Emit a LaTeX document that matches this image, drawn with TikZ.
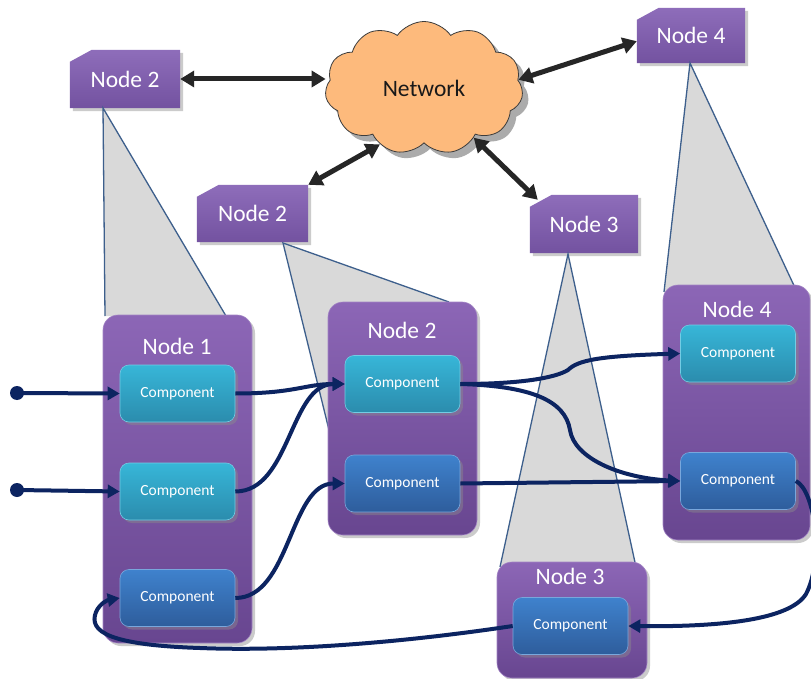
\documentclass[tikz,border=0pt]{standalone}
\usepackage{fontspec}
\setmainfont{Carlito}
\usetikzlibrary{shapes.symbols,shadows,arrows.meta}
\pgfdeclarelayer{bg}
\pgfsetlayers{bg,main}
\definecolor{conn}{HTML}{0C2461}
\definecolor{triline}{HTML}{3D5F8C}
\definecolor{trifill}{HTML}{D9D9D9}
\definecolor{purpT}{HTML}{8C66B6}
\definecolor{purpB}{HTML}{684690}
\definecolor{cyanT}{HTML}{37B6D8}
\definecolor{cyanB}{HTML}{2B8CAD}
\definecolor{blueT}{HTML}{3F82CD}
\definecolor{blueB}{HTML}{2E5D9C}
\definecolor{cloudfill}{HTML}{FDBA7C}
\definecolor{cloudline}{HTML}{3C3C3C}
\definecolor{tbT}{HTML}{8E6DBA}
\definecolor{tbB}{HTML}{7352A0}
\newcommand\mytopbox[1]{%
  \begin{pgfonlayer}{bg}
    \path[topfill] ([yshift=-12pt]#1.north west) -- ([xshift=22pt]#1.north west) -- (#1.north east) -- (#1.south east) -- (#1.south west) -- cycle;
  \end{pgfonlayer}}
\begin{document}
\begin{tikzpicture}[x=1pt,y=-1pt,
  shad/.style={drop shadow={shadow xshift=3pt,shadow yshift=-3pt,fill=black!45,opacity=0.45}},
  container/.style={rectangle, rounded corners=15pt, top color=purpT, bottom color=purpB, draw=purpT!80!white, line width=0.6pt, shad},
  titletext/.style={text=white, font=\fontsize{23.5}{27}\selectfont},
  toptext/.style={rectangle, text=white, font=\fontsize{23.5}{27}\selectfont},
  topfill/.style={top color=tbT, bottom color=tbB, shad},
  comp/.style={rectangle, rounded corners=9pt, minimum width=115pt, minimum height=57pt, text=white, font=\fontsize{15.5}{18}\selectfont, line width=0.6pt, shad},
  cyancomp/.style={comp, top color=cyanT, bottom color=cyanB, draw=cyanT!70!white},
  bluecomp/.style={comp, top color=blueT, bottom color=blueB, draw=blueT!70!white},
  cn/.style={draw=conn, line width=4pt, -{Triangle[length=12pt,width=13pt]}},
  blk/.style={draw=black!85, line width=5pt, {Triangle[length=14pt,width=16pt]}-{Triangle[length=14pt,width=16pt]}},
  dot/.style={circle, fill=conn, inner sep=0pt, minimum size=14pt},
  tri/.style={fill=trifill},
  triedge/.style={draw=triline, line width=1.3pt}
]
\begin{pgfonlayer}{bg}
  \fill[white] (0,0) rectangle (811,679);
\end{pgfonlayer}
\useasboundingbox (0,0) rectangle (811,679);

% top boxes
\node[toptext, minimum width=110pt, minimum height=58pt] (n2top) at (125,79) {Node 2};
\mytopbox{n2top}
\node[toptext, minimum width=108pt, minimum height=55pt] (n4top) at (691,35.5) {Node 4};
\mytopbox{n4top}
\node[toptext, minimum width=111pt, minimum height=57pt] (n2mid) at (252.5,213.5) {Node 2};
\mytopbox{n2mid}
\node[toptext, minimum width=108pt, minimum height=58pt] (n3top) at (584,224) {Node 3};
\mytopbox{n3top}

% projection triangles
\fill[tri] (103,108) -- (226,316) -- (105,316) -- cycle;
\draw[triedge] (105,316) -- (103,108) -- (226,316);
\fill[tri] (283,243) -- (449,302) -- (329,430) -- cycle;
\draw[triedge] (329,430) -- (283,243) -- (449,302);
\fill[tri] (568,254) -- (636,567) -- (500,567) -- cycle;
\draw[triedge] (500,567) -- (568,254) -- (636,567);
\fill[tri] (690,63) -- (797,292) -- (664,292) -- cycle;
\draw[triedge] (664,292) -- (690,63) -- (797,292);

% containers
\node[container, minimum width=149pt, minimum height=328pt] (c1) at (177.5,479) {};
\node[container, minimum width=149pt, minimum height=233pt] (c2) at (402.5,418.5) {};
\node[container, minimum width=147pt, minimum height=255pt] (c4) at (736.5,412.5) {};
\node[container, minimum width=150pt, minimum height=116pt] (c3) at (572,620) {};

\node[titletext] (t1) at (177,346) {Node 1};
\node[titletext] (t2) at (402,330) {Node 2};
\node[titletext] (t4) at (737,309) {Node 4};
\node[titletext] (t3) at (570,576) {Node 3};

% components
\node[cyancomp] (c11) at (177.5,393.5) {Component};
\node[cyancomp] (c12) at (177.5,491.5) {Component};
\node[bluecomp] (c13) at (177.5,598) {Component};
\node[cyancomp] (c21) at (402.5,384) {Component};
\node[bluecomp] (c22) at (402.5,483.5) {Component};
\node[cyancomp] (c41) at (738,353.5) {Component};
\node[bluecomp] (c42) at (738,481) {Component};
\node[bluecomp] (c31) at (570.5,626) {Component};

% input dots
\node[dot] (d1) at (17,393) {};
\node[dot] (d2) at (17,490) {};

% connectors
\draw[cn] (d1.center) -- (c11.west);
\draw[cn] (d2.center) -- (c12.west);
\draw[cn] (c11.east) .. controls +(60,0) and +(-40,0) .. (c21.west);
\draw[cn] (c12.east) .. controls +(55,0) and +(-55,0) .. (c21.west);
\draw[cn] (c13.east) .. controls +(55,0) and +(-55,0) .. (c22.west);
\draw[cn] (c21.east) .. controls (520,384) and (555,378) .. (568,370) .. controls (578,360) and (600,356) .. (c41.west);
\draw[cn] (c21.east) .. controls (530,386) and (565,400) .. (570,430) .. controls (574,458) and (620,478) .. (c42.west);
\draw[cn] (c22.east) -- (c42.west);
\draw[cn] (c42.east) .. controls (815,490) and (824,560) .. (806,594) .. controls (790,620) and (720,627) .. (c31.east);
\draw[cn] (c31.west) .. controls (420,640) and (300,652) .. (200,648) .. controls (110,645) and (88,632) .. (96,612) .. controls (100,603) and (108,600) .. (c13.west);

% network cloud
\node[cloud, cloud puffs=11, cloud puff arc=110, aspect=1.5, minimum width=198pt, minimum height=133pt,
      fill=cloudfill, draw=cloudline, line width=0.8pt,
      drop shadow={shadow xshift=6pt,shadow yshift=-6pt,fill=black!55,opacity=0.6},
      text=black!90, font=\fontsize{23.5}{27}\selectfont] (net) at (424,88) {Network};

% black arrows
\draw[blk] (n2top.east) -- (net.west |- n2top.east);
\draw[blk] (net.5) -- (n4top.186);
\draw[blk] (net.232) -- (n2mid.north east);
\draw[blk] (net.315) -- ([xshift=8pt,yshift=-5pt]n3top.north west);
\end{tikzpicture}
\end{document}
